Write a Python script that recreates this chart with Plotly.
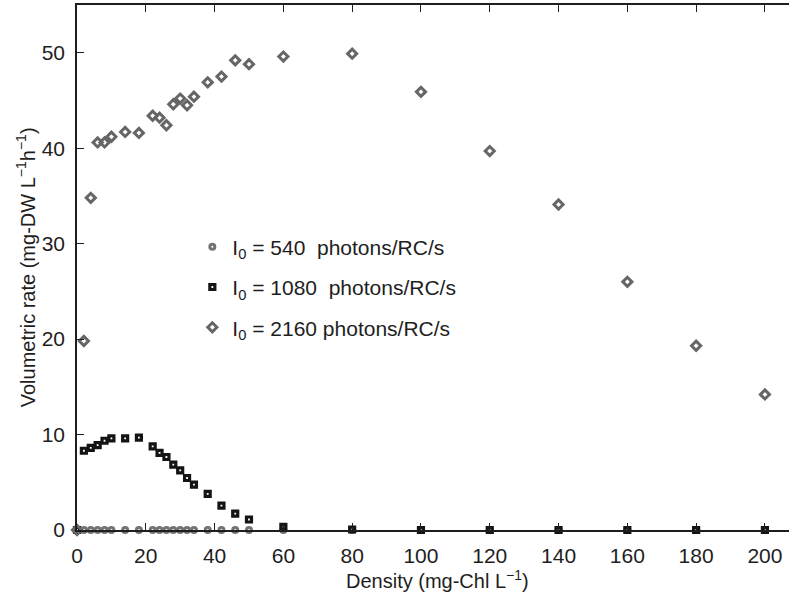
import plotly.graph_objects as go

density = [0, 2, 4, 6, 8, 10, 14, 18, 22, 24, 26, 28, 30, 32, 34, 38, 42, 46, 50,
           60, 80, 100, 120, 140, 160, 180, 200]
rate_540 = [0] * len(density)
rate_1080 = [0, 8.3, 8.6, 8.9, 9.35, 9.6, 9.6, 9.67, 8.76, 8.07, 7.65, 6.84, 6.25, 5.45,
             4.75, 3.78, 2.56, 1.72, 1.1, 0.33, 0.05, 0, 0, 0, 0, 0, 0]
rate_2160 = [0, 19.8, 34.8, 40.6, 40.6, 41.2, 41.7, 41.6, 43.4, 43.2, 42.4, 44.6, 45.2,
             44.5, 45.4, 46.9, 47.5, 49.2, 48.8, 49.6, 49.9, 45.9, 39.7, 34.1, 26.0,
             19.3, 14.2]
labels = ["I<sub>0</sub> = 540\u00a0 photons/RC/s",
          "I<sub>0</sub> = 1080\u00a0 photons/RC/s",
          "I<sub>0</sub> = 2160 photons/RC/s"]
x_ticks = list(range(0, 201, 20))
y_ticks = list(range(0, 51, 10))

FONT = "Liberation Sans, Arial, Helvetica, sans-serif"
INK = "#1e1e1e"

fig = go.Figure()
fig.add_trace(go.Scatter(
    x=density, y=rate_540, mode="markers", name=labels[0], legendgroup="a",
    marker=dict(symbol="circle-open", size=5, color="#737373", line=dict(width=3)),
    cliponaxis=False))
fig.add_trace(go.Scatter(
    x=density, y=rate_1080, mode="markers", name=labels[1], legendgroup="b",
    marker=dict(symbol="square-open", size=5, color="#141414", line=dict(width=3.2)),
    cliponaxis=False))
fig.add_trace(go.Scatter(
    x=density, y=rate_2160, mode="markers", name=labels[2], legendgroup="c",
    marker=dict(symbol="diamond-open", size=7, color="#666666", line=dict(width=3)),
    cliponaxis=False))

fig.update_layout(
    width=789, height=597,
    margin=dict(l=77, r=0, t=5, b=67),
    paper_bgcolor="white", plot_bgcolor="white",
    font=dict(family=FONT, size=21, color=INK),
    showlegend=True,
    legend=dict(x=0.162, y=0.578, xanchor="left", yanchor="top",
                bgcolor="rgba(0,0,0,0)", font=dict(size=21, color=INK),
                traceorder="grouped", tracegroupgap=10, itemsizing="trace"),
    xaxis=dict(range=[0, 207], tickvals=x_ticks, ticks="inside", ticklen=7,
               tickwidth=1.2, tickcolor=INK, showline=True, linecolor=INK,
               linewidth=1.6, mirror="ticks", showgrid=False, zeroline=False,
               tickfont=dict(size=21, color=INK), ticklabelstandoff=6),
    yaxis=dict(range=[0, 55], tickvals=y_ticks, ticks="inside", ticklen=7,
               tickwidth=1.2, tickcolor=INK, showline=True, linecolor=INK,
               linewidth=1.6, mirror=False, showgrid=False, zeroline=False,
               tickfont=dict(size=21, color=INK), ticklabelstandoff=6),
    annotations=[
        dict(text="Density (mg-Chl L<sup>\u22121</sup>)", xref="paper", yref="paper",
             x=(437 - 77) / 712, y=-0.066, xanchor="center", yanchor="top",
             showarrow=False, font=dict(size=20, color=INK)),
        dict(text="Volumetric rate (mg-DW L<sup>\u22121</sup>h<sup>\u22121</sup>)",
             xref="paper", yref="paper", x=-0.072, y=0.5, xanchor="center",
             yanchor="middle", textangle=-90, showarrow=False,
             font=dict(size=20, color=INK)),
    ],
)

fig.write_html("out.html")
